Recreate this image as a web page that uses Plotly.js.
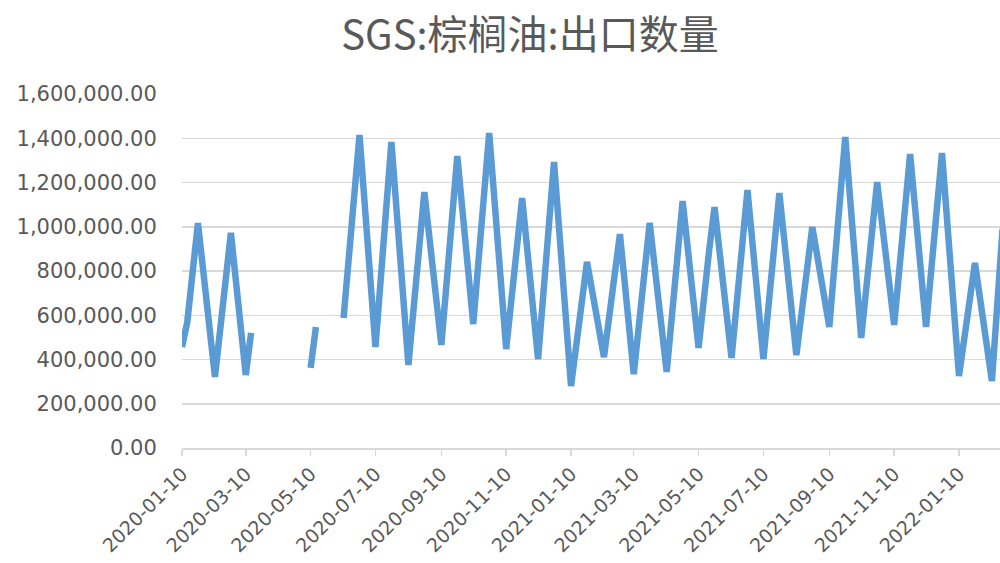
<!DOCTYPE html>
<html>
<head>
<meta charset="utf-8">
<script src="https://cdn.plot.ly/plotly-3.0.1.min.js"></script>
<style>
html,body{margin:0;padding:0;background:#fff;}
#chart{width:1000px;height:563px;}
</style>
</head>
<body>
<div id="chart"></div>
<script>
// Report months and report days (cumulative SGS readings, 1-10 / 1-15 / 1-20 / 1-25)
const months = [
  '2020-01','2020-02','2020-03','2020-04','2020-05','2020-06','2020-07','2020-08','2020-09','2020-10','2020-11','2020-12',
  '2021-01','2021-02','2021-03','2021-04','2021-05','2021-06','2021-07','2021-08','2021-09','2021-10','2021-11','2021-12',
  '2022-01','2022-02'
];
const days = ['10','15','20','25'];
// Export quantity (tonnes); null = no data (line gap)
const exportQty = [
  [456000, 570000, 795000, 1017000],
  [321000, 540000, 760000, 972000],
  [330000, 520000, null, null],
  [null, null, null, null],
  [362000, 547000, null, null],
  [588000, 860000, 1140000, 1415000],
  [456000, 770000, 1080000, 1383000],
  [375000, 640000, 900000, 1157000],
  [466000, 750000, 1040000, 1320000],
  [560000, 850000, 1135000, 1424000],
  [447000, 670000, 900000, 1130000],
  [402000, 700000, 1000000, 1293000],
  [280000, 465000, 655000, 841000],
  [411000, 595000, 780000, 967000],
  [334000, 560000, 790000, 1017000],
  [344000, 600000, 860000, 1116000],
  [452000, 700000, 895000, 1089000],
  [407000, 660000, 915000, 1166000],
  [402000, 650000, 900000, 1152000],
  [420000, 610000, 805000, 999000],
  [547000, 830000, 1120000, 1406000],
  [497000, 730000, 965000, 1202000],
  [556000, 810000, 1070000, 1329000],
  [547000, 810000, 1070000, 1333000],
  [325000, 500000, 670000, 836000],
  [303000, 650000, 990000, null]
];
const tickLabels = ['2020-01-10','2020-03-10','2020-05-10','2020-07-10','2020-09-10','2020-11-10',
  '2021-01-10','2021-03-10','2021-05-10','2021-07-10','2021-09-10','2021-11-10','2022-01-10'];
const titleText = 'SGS:棕榈油:出口数量';

const xs = [], ys = [];
months.forEach((m, i) => {
  days.forEach((d, j) => {
    xs.push(m + '-' + d);
    ys.push(exportQty[i][j]);
  });
});

const yTickFont = {family: 'DejaVu Sans, sans-serif', size: 21, color: '#595959'};
const xTickFont = {family: 'DejaVu Sans, sans-serif', size: 19, color: '#595959'};

Plotly.newPlot('chart', [{
  x: xs, y: ys, type: 'scatter', mode: 'lines',
  connectgaps: false,
  line: {color: '#5B9BD5', width: 6.5, shape: 'linear'},
  hoverinfo: 'skip'
}], {
  width: 1000, height: 563,
  paper_bgcolor: '#ffffff', plot_bgcolor: '#ffffff',
  margin: {l: 182, r: 0, t: 94, b: 115, pad: 0},
  showlegend: false,
  title: {
    text: titleText,
    font: {family: 'Noto Sans CJK SC, sans-serif', size: 40, color: '#595959'},
    x: 0.53, xanchor: 'center', xref: 'container',
    y: 1 - 35/563, yanchor: 'middle', yref: 'container'
  },
  xaxis: {
    type: 'date',
    range: ['2020-01-10', '2022-02-17 14:00'],
    tickmode: 'array',
    tickvals: tickLabels,
    ticktext: tickLabels,
    tickangle: -45,
    tickfont: xTickFont,
    ticks: 'outside', ticklen: 6, tickcolor: '#d9d9d9', tickwidth: 1.5,
    showgrid: false, zeroline: false,
    showline: true, linecolor: '#d9d9d9', linewidth: 1.5,
    fixedrange: true
  },
  yaxis: {
    range: [0, 1600000],
    tickmode: 'linear', tick0: 0, dtick: 200000,
    tickformat: ',.2f',
    tickfont: yTickFont,
    ticks: 'outside', ticklen: 20, tickcolor: 'rgba(0,0,0,0)',
    showgrid: true, gridcolor: '#d9d9d9', gridwidth: 1.5,
    zeroline: false, showline: false,
    fixedrange: true
  }
}, {displayModeBar: false, staticPlot: true});
</script>
</body>
</html>
